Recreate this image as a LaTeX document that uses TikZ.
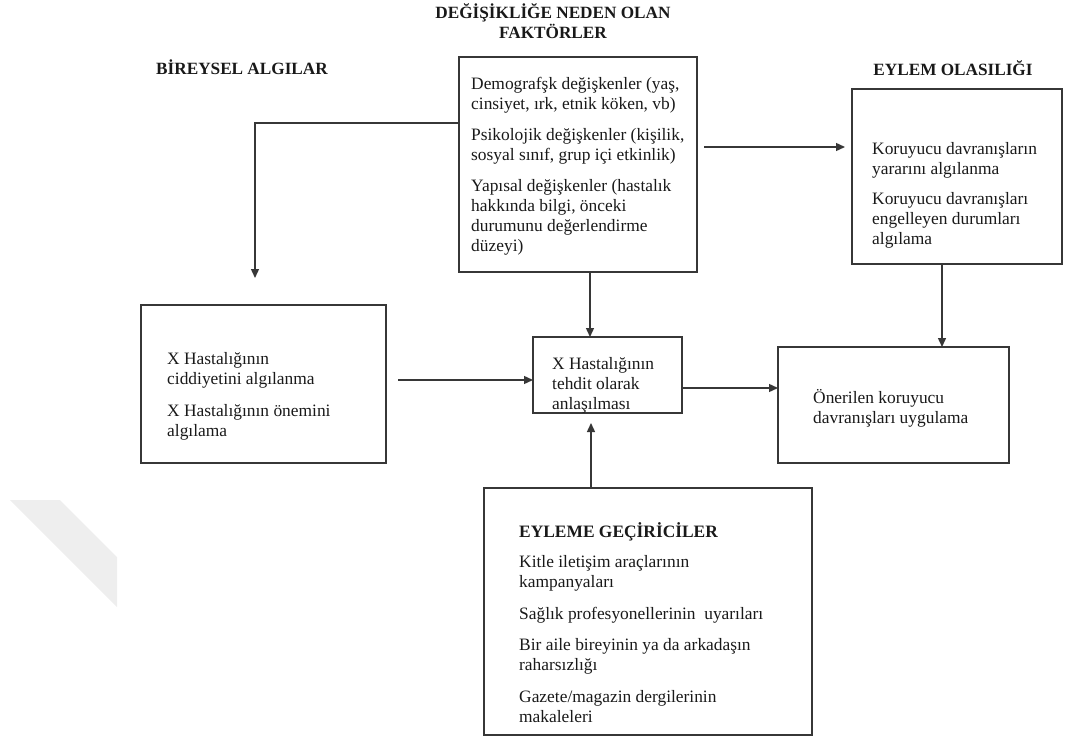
\documentclass[tikz,border=0pt]{standalone}
\usepackage{fontspec}
\setmainfont{Liberation Serif}
\usepackage{tikz}
\usetikzlibrary{arrows.meta, positioning, calc}
\definecolor{boxline}{RGB}{55,55,55}
\definecolor{txtcol}{RGB}{25,25,25}
\definecolor{wmark}{RGB}{238,238,238}

\begin{document}
\begin{tikzpicture}[
    x=1pt,y=-1pt,
    box/.style={draw=boxline,line width=1.6pt,inner sep=0pt,outer sep=0pt},
    txt/.style={anchor=north west,align=left,inner sep=0pt,text=txtcol,
      font=\fontsize{17.4}{20}\selectfont},
    head/.style={anchor=base,align=center,inner sep=0pt,text=txtcol,
      font=\bfseries\fontsize{17.2}{20}\selectfont},
    arrow/.style={-{Triangle[length=9pt,width=8pt]},draw=boxline,line width=1.4pt}
  ]
  \useasboundingbox (0,0) rectangle (1072,749);

  % watermark band
  \fill[wmark] (10,500) -- (60,500) -- (117,557) -- (117,607) -- cycle;

  % headings
  \node[head] (hFac) at (553,39) {DEĞİŞİKLİĞE NEDEN OLAN\\FAKTÖRLER};
  \node[head] (hLft) at (242,75) {BİREYSEL ALGILAR};
  \node[head] (hAct) at (953,76) {EYLEM OLASILIĞI};

  % factors
  \node[box,minimum width=238pt,minimum height=215pt] (fac) at (578,164.5) {};
  \node[txt] (facTxt) at (471,75) {%
    \strut Demografşk değişkenler (yaş,\\
    cinsiyet, ırk, etnik köken, vb)\\[11pt]
    Psikolojik değişkenler (kişilik,\\
    sosyal sınıf, grup içi etkinlik)\\[11pt]
    Yapısal değişkenler (hastalık\\
    hakkında bilgi, önceki\\
    durumunu değerlendirme\\
    düzeyi)};

  % likelihood of action
  \node[box,minimum width=210pt,minimum height=175pt] (act) at (957,176.5) {};
  \node[txt] (actTxt) at (872,140) {%
    \strut Koruyucu davranışların\\
    yararını algılanma\\[10pt]
    Koruyucu davranışları\\
    engelleyen durumları\\
    algılama};

  % individual perceptions
  \node[box,minimum width=245pt,minimum height=158pt] (lft) at (263.5,384) {};
  \node[txt] (lftTxt) at (167,350) {%
    \strut X Hastalığının\\
    ciddiyetini algılanma\\[12pt]
    X Hastalığının önemini\\
    algılama};

  % threat
  \node[box,minimum width=149pt,minimum height=76pt] (thr) at (607.5,375) {};
  \node[txt] (thrTxt) at (552,355) {%
    \strut X Hastalığının\\
    tehdit olarak\\
    anlaşılması};

  % behaviour
  \node[box,minimum width=231pt,minimum height=116pt] (beh) at (893.5,405) {};
  \node[txt] (behTxt) at (813,389) {%
    \strut Önerilen koruyucu\\
    davranışları uygulama};

  % cues to action
  \node[box,minimum width=328pt,minimum height=247pt] (trig) at (648,611.5) {};
  \node[txt] (trigTxt) at (519,522) {%
    \strut\textbf{EYLEME GEÇİRİCİLER}\\[10pt]
    Kitle iletişim araçlarının\\
    kampanyaları\\[12pt]
    Sağlık profesyonellerinin\ \ uyarıları\\[11pt]
    Bir aile bireyinin ya da arkadaşın\\
    raharsızlığı\\[12pt]
    Gazete/magazin dergilerinin\\
    makaleleri};

  % connectors
  \coordinate (dropL) at (255,278);
  \draw[arrow] (fac.west |- 0,123) -| (dropL);
  \draw[arrow,shorten <=7pt,shorten >=7pt] (fac.east |- 0,147) -- (act.west |- 0,147);
  \draw[arrow] (fac.south -| 590,0) -- (thr.north -| 590,0);
  \draw[arrow,shorten <=12pt] (lft.east |- 0,380) -- (thr.west |- 0,380);
  \draw[arrow] (thr.east |- 0,388) -- (beh.west |- 0,388);
  \draw[arrow] (act.south -| 942,0) -- (beh.north -| 942,0);
  \draw[arrow,shorten >=10pt] (trig.north -| 591,0) -- (thr.south -| 591,0);
\end{tikzpicture}
\end{document}
